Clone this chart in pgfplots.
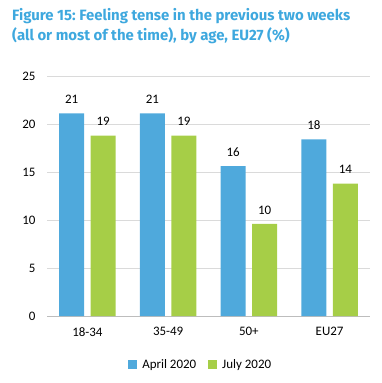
\documentclass[border=0pt]{standalone}
\usepackage{pgfplots}
\pgfplotsset{compat=1.18}
\usepackage{fontspec}
\setmainfont{Carlito}
\newfontfamily\titlefont{Fira Sans}
\frenchspacing
\definecolor{barblue}{HTML}{4FA9DC}
\definecolor{bargreen}{HTML}{A6CE47}
\definecolor{titleblue}{HTML}{3EA8DE}
\definecolor{gridgray}{HTML}{DADADA}
\definecolor{axisgray}{HTML}{BDBDBD}
\begin{document}
\begin{tikzpicture}
\path[use as bounding box] (-47bp,-67bp) rectangle (335bp,316bp);
\node[anchor=base west, inner sep=0pt, text=titleblue,
  font=\titlefont\bfseries\fontsize{15}{18}\selectfont] at (-35bp,295bp)
  {Figure 15: Feeling tense in the previous two weeks};
\node[anchor=base west, inner sep=0pt, text=titleblue,
  font=\titlefont\bfseries\fontsize{15}{18}\selectfont] at (-35bp,275bp)
  {(all or most of the time), by age, EU27 (\%)};
\begin{axis}[
  at={(0,0)}, anchor=south west,
  scale only axis, width=323bp, height=240bp,
  ybar=6.5bp, bar width=25bp,
  xmin=-0.5, xmax=3.5, ymin=0, ymax=25,
  xtick={0,1,2,3}, xticklabels={18-34,35-49,50+,EU27},
  ytick={0,5,...,25},
  axis x line*=bottom, axis y line*=left,
  x axis line style={draw=axisgray, line width=0.9bp},
  y axis line style={draw=none},
  ymajorgrids, grid style={draw=gridgray, line width=0.9bp},
  major tick length=0pt,
  tick style={draw=none},
  yticklabel style={anchor=east, xshift=-8bp, font=\fontsize{13}{15}\selectfont},
  xticklabel style={yshift=-8bp, font=\fontsize{13}{15}\selectfont},
  nodes near coords,
  nodes near coords style={font=\fontsize{13}{15}\selectfont, yshift=6bp,
    /pgf/number format/.cd, fixed, precision=0, assume math mode=true},
  /pgf/number format/assume math mode=true,
  legend style={at={(0.476,-0.204)}, anchor=center, draw=none, fill=none,
    legend columns=2, font=\fontsize{13}{15}\selectfont,
    /tikz/every odd column/.append style={column sep=3bp},
    /tikz/every even column/.append style={column sep=10bp}},
  legend image code/.code={\fill[#1] (0bp,-4.5bp) rectangle (9bp,4.5bp);},
]
\addplot[fill=barblue, draw=none] coordinates {(0,21.1) (1,21.1) (2,15.6) (3,18.4)};
\addplot[fill=bargreen, draw=none] coordinates {(0,18.8) (1,18.8) (2,9.6) (3,13.8)};
\legend{April 2020, July 2020}
\end{axis}
\end{tikzpicture}
\end{document}
